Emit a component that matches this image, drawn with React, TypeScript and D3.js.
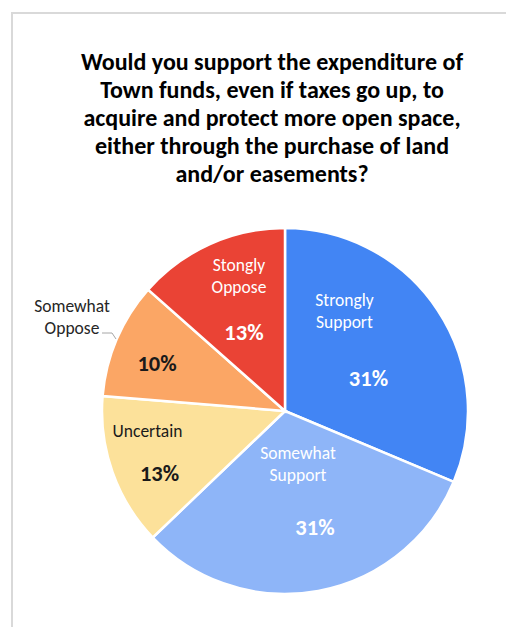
import React from "react";
import * as d3 from "d3";

const categories = ["Strongly Support", "Somewhat Support", "Uncertain", "Somewhat Oppose", "Stongly Oppose"];
const values = [31.2, 31.4, 13.4, 10.2, 13.4];
const labelLines = [["Strongly", "Support"], ["Somewhat", "Support"], ["Uncertain"], ["Somewhat", "Oppose"], ["Stongly", "Oppose"]];
const colors = ["#4285F4", "#8EB5F8", "#FCE19A", "#FBA665", "#EA4335"];
const textColors = ["#ffffff", "#ffffff", "#1a1a1a", "#1a1a1a", "#ffffff"];
const titleLines = [
  "Would you support the expenditure of",
  "Town funds, even if taxes go up, to",
  "acquire and protect more open space,",
  "either through the purchase of land",
  "and/or easements?",
];

const W = 506, H = 627;
const cx = 285, cy = 411, R = 183;
const font = "Carlito, Calibri, Lato, 'Open Sans', sans-serif";

const nameOffsets = [[-32, -44], [-7, -60], [-34, -11], [0, 0], [-1, -40]];
const pctOffsets = [[-8, 36], [10, 16], [-22, 33], [-27, 3], [4, 29]];

export default function App() {
  const pie = d3.pie<number>().value((d) => d).sort(null).startAngle(0).endAngle(2 * Math.PI);
  const arcs = pie(values);
  const arc = d3.arc<d3.PieArcDatum<number>>().innerRadius(0).outerRadius(R);
  const labelArc = d3.arc<d3.PieArcDatum<number>>().innerRadius(R * 0.6).outerRadius(R * 0.6);

  return (
    <svg width={W} height={H} style={{ display: "block", position: "absolute", left: 0, top: 0 }}>
      <rect x={0} y={0} width={W} height={H} fill="#fff" />
      <path d={`M12,${H} L12,13 L${W},13`} fill="none" stroke="#d9d9d9" strokeWidth={2} />
      {titleLines.map((t, i) => (
        <text key={i} x={272} y={70 + i * 28} textAnchor="middle" fontFamily={font} fontWeight="bold" fontSize={24} fill="#000">
          {t}
        </text>
      ))}
      <g transform={`translate(${cx},${cy})`}>
        {arcs.map((a, i) => (
          <path key={i} d={arc(a) || ""} fill={colors[i]} stroke="#fff" strokeWidth={2.5} />
        ))}
      </g>
      {arcs.map((a, i) => {
        const pct = Math.round(values[i]) + "%";
        const [lx, ly] = labelArc.centroid(a);
        const [px, py] = pctOffsets[i];
        const pctEl = (
          <text x={cx + lx + px} y={cy + ly + py} textAnchor="middle" fontFamily={font} fontWeight="bold" fontSize={22.5} fill={textColors[i]}>{pct}</text>
        );
        if (i === 3) {
          return (
            <g key={i}>
              <text x={72} y={312} textAnchor="middle" fontFamily={font} fontSize={17.5} fill="#262626">Somewhat</text>
              <text x={72} y={334} textAnchor="middle" fontFamily={font} fontSize={17.5} fill="#262626">Oppose</text>
              <polyline points={`102,333 112,333 116,339`} fill="none" stroke="#a6a6a6" strokeWidth={1} />
              {pctEl}
            </g>
          );
        }
        const [nx, ny] = nameOffsets[i];
        const lines = labelLines[i];
        return (
          <g key={i}>
            {lines.map((l, j) => (
              <text key={j} x={cx + lx + nx} y={cy + ly + ny + j * 22} textAnchor="middle" fontFamily={font} fontSize={17.5} fill={textColors[i]}>{l}</text>
            ))}
            {pctEl}
          </g>
        );
      })}
    </svg>
  );
}
